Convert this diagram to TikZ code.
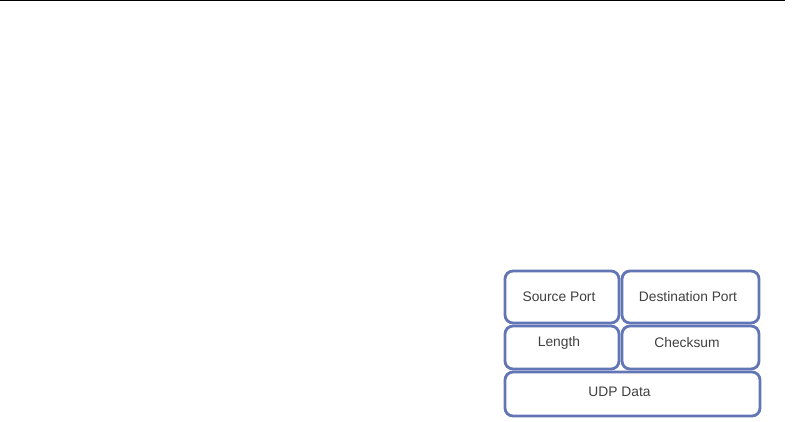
\documentclass[tikz,border=0pt]{standalone}
\usepackage{fontspec}
\setmainfont{Liberation Sans}
\definecolor{boxblue}{RGB}{98,118,182}
\definecolor{txtgray}{RGB}{64,64,64}
\begin{document}
\begin{tikzpicture}[x=1pt,y=-1pt,
  field/.style={draw=boxblue,line width=2.8pt,rounded corners=8pt,fill=white},
  lbl/.style={font=\fontsize{13.8}{16}\selectfont,text=txtgray,inner sep=0pt}]
\useasboundingbox (0,0) rectangle (798,421);
\draw[line width=1.2pt] (0,0.6) -- (785,0.6);
% boxes
\draw[field] (505,271) rectangle (619,323);
\draw[field] (622,271) rectangle (759,323);
\draw[field] (505,326) rectangle (619,369);
\draw[field] (622,326) rectangle (759,369);
\draw[field] (505,372) rectangle (760,416);
% labels
\node[lbl] (sp) at (559,297) {Source Port};
\node[lbl] (dp) at (688,297) {Destination Port};
\node[lbl] (len) at (559,343) {Length};
\node[lbl] (cs) at (687,343) {Checksum};
\node[lbl] (data) at (619.5,392) {UDP Data};
\end{tikzpicture}
\end{document}
